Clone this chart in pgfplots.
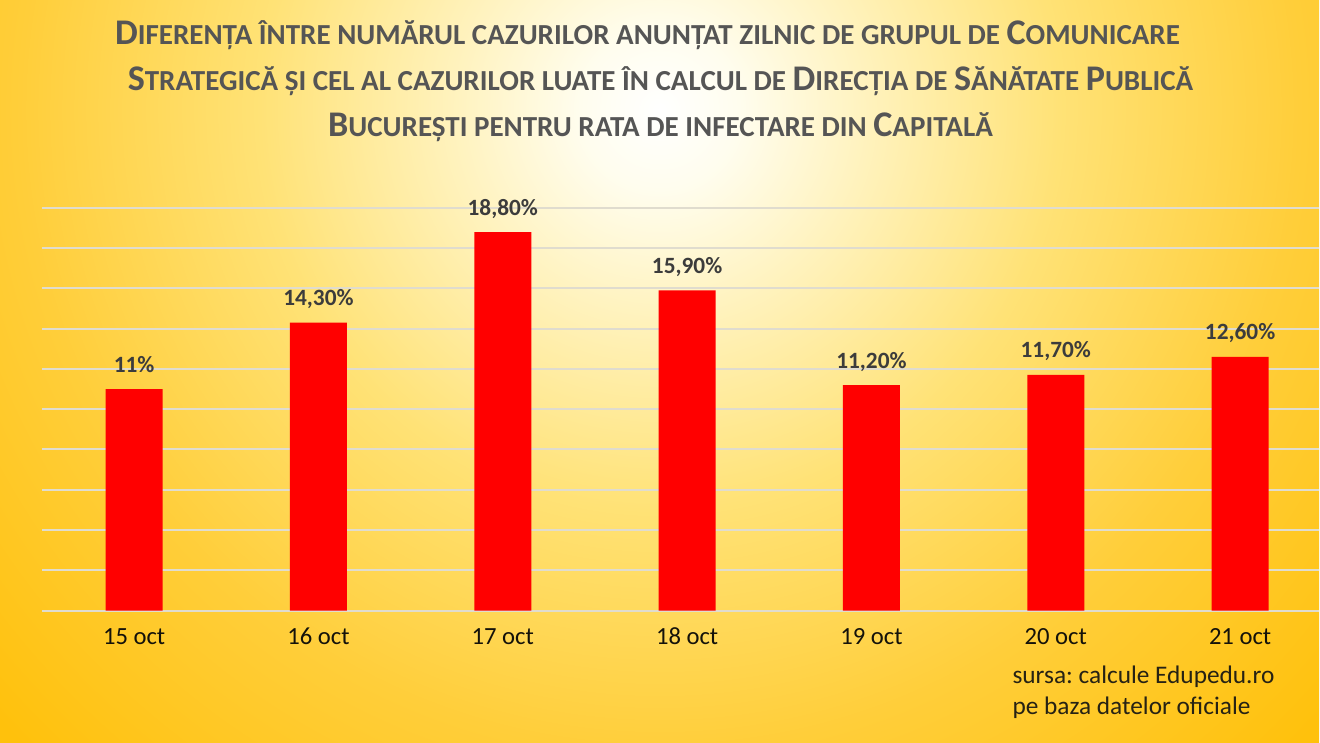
\documentclass[border=0pt]{standalone}
\usepackage{fontspec}
\setmainfont{Carlito}
\usepackage{pgfplots}
\pgfplotsset{compat=1.18}
\usepackage{pgfplotstable}
\frenchspacing
\definecolor{titlegray}{RGB}{85,85,85}
\definecolor{lblgray}{RGB}{60,60,60}
\definecolor{gridc}{RGB}{224,220,206}
\definecolor{c0}{RGB}{255,253,238}
\definecolor{c1}{RGB}{255,243,192}
\definecolor{c2}{RGB}{255,226,118}
\definecolor{c3}{RGB}{255,206,58}
\definecolor{c4}{RGB}{255,193,12}
\pgfdeclareradialshading{bgshade}{\pgfpoint{0bp}{0bp}}{color(0bp)=(white); color(2bp)=(c0); color(5bp)=(c1); color(10bp)=(c2); color(16bp)=(c3); color(22.5bp)=(c4); color(50bp)=(c4)}
\newcommand{\B}{\fontsize{27.1}{32}\selectfont}
\newcommand{\s}{\fontsize{21.8}{32}\selectfont}
\pgfplotstableread{
x y lab
0 11.0 11\%
1 14.3 14,30\%
2 18.8 18,80\%
3 15.9 15,90\%
4 11.2 11,20\%
5 11.7 11,70\%
6 12.6 12,60\%
}\datatab
\begin{document}
\begin{tikzpicture}
\begin{scope}[x=0.75pt,y=0.75pt]
\useasboundingbox (0,0) rectangle (1320,743);
\begin{scope}
\clip (0,0) rectangle (1320,743);
\shade[shading=bgshade] (-340,-367) rectangle (1660,1633);
\end{scope}
\node[anchor=base, text=titlegray, font=\bfseries, inner sep=0pt] at (648,698) {{\B D}{\s IFERENȚA ÎNTRE NUMĂRUL CAZURILOR ANUNȚAT ZILNIC DE GRUPUL DE }{\B C}{\s OMUNICARE}};
\node[anchor=base, text=titlegray, font=\bfseries, inner sep=0pt] at (661,652) {{\B S}{\s TRATEGICĂ ȘI CEL AL CAZURILOR LUATE ÎN CALCUL DE }{\B D}{\s IRECȚIA DE }{\B S}{\s ĂNĂTATE }{\B P}{\s UBLICĂ}};
\node[anchor=base, text=titlegray, font=\bfseries, inner sep=0pt] at (661,606) {{\B B}{\s UCUREȘTI PENTRU RATA DE INFECTARE DIN }{\B C}{\s APITALĂ}};
\node[anchor=base west, text={rgb,255:red,38;green,34;blue,20}, font=\fontsize{19}{23}\selectfont, inner sep=0pt] at (1013,59) {sursa: calcule Edupedu.ro};
\node[anchor=base west, text={rgb,255:red,38;green,34;blue,20}, font=\fontsize{19}{23}\selectfont, inner sep=0pt] at (1013,28) {pe baza datelor oficiale};
\end{scope}
\begin{axis}[
  at={(31.5pt,99pt)}, anchor=south west,
  scale only axis, width=958.5pt, height=302.25pt,
  xmin=-0.5, xmax=6.428, ymin=0, ymax=20,
  ybar, bar width=42.75pt,
  axis line style={draw=none},
  major tick length=0pt,
  ytick={0,2,...,20}, yticklabels={},
  ymajorgrids, grid style={gridc, line width=1.5pt},
  xtick={0,...,6},
  xticklabels={15 oct,16 oct,17 oct,18 oct,19 oct,20 oct,21 oct},
  xticklabel style={font=\fontsize{18.5}{22}\selectfont, text={rgb,255:red,20;green,18;blue,10}, inner sep=0pt, anchor=base, yshift=-25.5pt},
  point meta=explicit symbolic,
  nodes near coords,
  nodes near coords style={font=\bfseries\fontsize{17.5}{21}\selectfont, text=lblgray, anchor=base, inner sep=0pt, yshift=12.75pt},
  clip=false,
]
\addplot[fill={rgb,255:red,255;green,0;blue,0}, draw=none] table[x=x, y=y, meta=lab] {\datatab};
\end{axis}
\end{tikzpicture}
\end{document}
